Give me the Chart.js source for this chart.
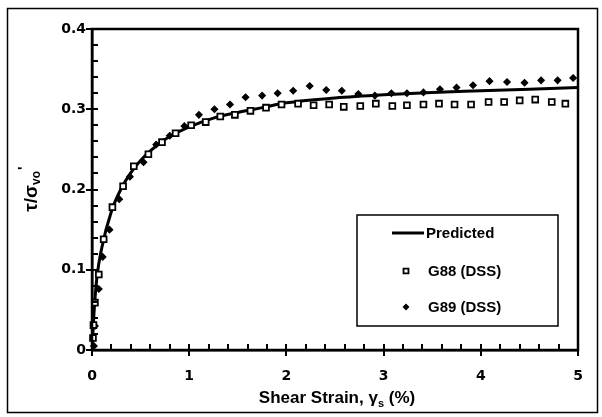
<!DOCTYPE html>
<html>
<head>
<meta charset="utf-8">
<script src="https://cdn.jsdelivr.net/npm/chart.js@4.4.1/dist/chart.umd.min.js"></script>
<style>
  html, body { margin: 0; padding: 0; background: #fff; }
  #wrap { width: 602px; height: 417px; }
</style>
</head>
<body>
<div id="wrap"><canvas id="chart" width="602" height="417"></canvas></div>
<script>
// --- data ---
const predStrain = [0, 0.02, 0.05, 0.1, 0.2, 0.3, 0.4, 0.5, 0.6, 0.7, 0.8, 1.0, 1.25, 1.5, 1.75, 2.0, 2.5, 3.0, 3.5, 4.0, 4.5, 5.0];
const predRatio  = [0, 0.045, 0.09, 0.127, 0.173, 0.201, 0.221, 0.236, 0.248, 0.258, 0.266, 0.278, 0.289, 0.296, 0.302, 0.308, 0.314, 0.318, 0.321, 0.323, 0.325, 0.327];

const g88Strain = [0.01, 0.015, 0.03, 0.07, 0.12, 0.21, 0.32, 0.43, 0.58, 0.72, 0.86, 1.02, 1.17, 1.32, 1.47, 1.63, 1.79, 1.95, 2.12, 2.28, 2.44, 2.59, 2.76, 2.92, 3.09, 3.24, 3.41, 3.57, 3.73, 3.90, 4.08, 4.24, 4.40, 4.56, 4.73, 4.87];
const g88Ratio  = [0.015, 0.031, 0.059, 0.094, 0.138, 0.178, 0.204, 0.229, 0.244, 0.259, 0.270, 0.280, 0.284, 0.291, 0.293, 0.298, 0.302, 0.306, 0.307, 0.305, 0.306, 0.303, 0.304, 0.307, 0.304, 0.305, 0.306, 0.307, 0.306, 0.306, 0.309, 0.309, 0.311, 0.312, 0.309, 0.307];

const g89Strain = [0.02, 0.03, 0.07, 0.11, 0.18, 0.28, 0.39, 0.53, 0.66, 0.80, 0.95, 1.10, 1.26, 1.42, 1.58, 1.75, 1.91, 2.07, 2.24, 2.41, 2.57, 2.74, 2.91, 3.08, 3.24, 3.41, 3.58, 3.75, 3.92, 4.09, 4.27, 4.45, 4.62, 4.79, 4.95];
const g89Ratio  = [0.005, 0.03, 0.076, 0.116, 0.150, 0.188, 0.216, 0.234, 0.256, 0.267, 0.279, 0.293, 0.300, 0.306, 0.315, 0.317, 0.320, 0.323, 0.329, 0.324, 0.323, 0.319, 0.317, 0.320, 0.320, 0.321, 0.325, 0.327, 0.330, 0.335, 0.334, 0.333, 0.336, 0.336, 0.339];

const seriesLabels = ['Predicted', 'G88 (DSS)', 'G89 (DSS)'];

const FONT = '"Liberation Sans", Arial, sans-serif';
const TICK_FONT = '"DejaVu Sans", "Liberation Sans", sans-serif';

function toPoints(xs, ys) {
    return xs.map((x, i) => ({ x: x, y: ys[i] }));
}

// inward minor/major ticks + closed frame
const frameTicks = {
    id: 'frameTicks',
    afterDatasetsDraw(chart) {
        const { ctx, chartArea: a, scales: { x, y } } = chart;
        ctx.save();
        ctx.strokeStyle = '#000';
        ctx.lineWidth = 2;
        ctx.beginPath();
        for (let i = 0; i <= 20; i++) {
            const py = Math.round(y.getPixelForValue(i * 0.02));
            const major = i % 5 === 0;
            ctx.moveTo(a.left - (major ? 6 : 0), py);
            ctx.lineTo(a.left + 6, py);
        }
        for (let i = 0; i <= 25; i++) {
            const px = Math.round(x.getPixelForValue(i * 0.2));
            const major = i % 5 === 0;
            ctx.moveTo(px, a.bottom + (major ? 6 : 0));
            ctx.lineTo(px, a.bottom - 6);
        }
        ctx.stroke();
        ctx.lineWidth = 2.5;
        ctx.strokeRect(a.left, a.top, a.right - a.left, a.bottom - a.top);
        // outer border of the figure
        ctx.lineWidth = 1.5;
        ctx.strokeRect(7.5, 8.5, 590, 404);
        ctx.restore();
    }
};

// axis titles with sub/superscripts
const axisTitles = {
    id: 'axisTitles',
    afterDraw(chart) {
        const { ctx, chartArea: a } = chart;
        ctx.save();
        ctx.fillStyle = '#000';
        ctx.textBaseline = 'alphabetic';

        // x title: Shear Strain, γs (%)
        const big = 'bold 17px ' + FONT, small = 'bold 11px ' + FONT;
        const parts = [['Shear Strain, γ', big, 0], ['s', small, 4], [' (%)', big, 0]];
        let w = 0;
        parts.forEach(p => { ctx.font = p[1]; w += ctx.measureText(p[0]).width; });
        let cx = (a.left + a.right) / 2 - w / 2 + 2;
        const by = 403;
        parts.forEach(p => {
            ctx.font = p[1];
            ctx.fillText(p[0], cx, by + p[2]);
            cx += ctx.measureText(p[0]).width;
        });

        // y title: τ/σvo'
        ctx.translate(37, (a.top + a.bottom) / 2);
        ctx.rotate(-Math.PI / 2);
        const yparts = [['τ/σ', 'bold 19px ' + FONT, 0], ['vo', 'bold 12px ' + FONT, 3], ["'", 'bold 15px ' + FONT, -9]];
        w = 0;
        yparts.forEach(p => { ctx.font = p[1]; w += ctx.measureText(p[0]).width; });
        cx = -w / 2;
        yparts.forEach(p => {
            ctx.font = p[1];
            ctx.fillText(p[0], cx, p[2]);
            cx += ctx.measureText(p[0]).width + (p[0] === 'vo' ? 1 : 0);
        });
        ctx.restore();
    }
};

// boxed legend inside the plot
const boxLegend = {
    id: 'boxLegend',
    afterDraw(chart) {
        const { ctx } = chart;
        const box = { l: 357, t: 215, r: 558, b: 326 };
        const rows = [233, 271, 307];
        ctx.save();
        ctx.fillStyle = '#fff';
        ctx.fillRect(box.l, box.t, box.r - box.l, box.b - box.t);
        ctx.strokeStyle = '#000';
        ctx.lineWidth = 1.5;
        ctx.strokeRect(box.l, box.t, box.r - box.l, box.b - box.t);
        ctx.font = 'bold 15px ' + FONT;
        ctx.textBaseline = 'middle';
        ctx.fillStyle = '#000';
        chart.data.datasets.forEach((ds, i) => {
            const yy = rows[i];
            if (i === 0) {
                ctx.lineWidth = 3;
                ctx.beginPath();
                ctx.moveTo(392, yy);
                ctx.lineTo(424, yy);
                ctx.stroke();
                ctx.fillText(ds.label, 426, yy + 1);
            } else {
                ctx.lineWidth = ds.pointBorderWidth;
                ctx.fillStyle = ds.pointBackgroundColor;
                ctx.strokeStyle = '#000';
                Chart.helpers.drawPoint(ctx, {
                    pointStyle: ds.pointStyle,
                    radius: ds.pointRadius - 0.6,
                    borderWidth: ds.pointBorderWidth
                }, 406, yy);
                ctx.fillStyle = '#000';
                ctx.fillText(ds.label, 428, yy + 1);
            }
        });
        ctx.restore();
    }
};

new Chart(document.getElementById('chart'), {
    type: 'scatter',
    data: {
        datasets: [{
            label: seriesLabels[0],
            data: toPoints(predStrain, predRatio),
            showLine: true,
            borderColor: '#000',
            borderWidth: 3,
            pointRadius: 0,
            cubicInterpolationMode: 'monotone',
            order: 3
        }, {
            label: seriesLabels[1],
            data: toPoints(g88Strain, g88Ratio),
            pointStyle: 'rect',
            pointRadius: 4.1,
            pointBorderWidth: 1.8,
            pointBackgroundColor: '#fff',
            pointBorderColor: '#000',
            clip: false,
            order: 1
        }, {
            label: seriesLabels[2],
            data: toPoints(g89Strain, g89Ratio),
            pointStyle: 'rectRot',
            pointRadius: 3.2,
            pointBorderWidth: 1.2,
            pointBackgroundColor: '#000',
            pointBorderColor: '#000',
            clip: false,
            order: 2
        }]
    },
    options: {
        responsive: false,
        animation: false,
        layout: { padding: { left: 0, top: 29, right: 24, bottom: 0 } },
        plugins: { legend: { display: false }, tooltip: { enabled: false } },
        scales: {
            x: {
                type: 'linear',
                min: 0, max: 5,
                afterFit(scale) { scale.height = 67; },
                grid: { display: true, drawOnChartArea: false, drawTicks: false },
                border: { display: true, color: '#000', width: 2.5 },
                ticks: {
                    stepSize: 1,
                    padding: 18,
                    color: '#000',
                    font: { family: TICK_FONT, size: 14, weight: 'bold' },
                    callback: v => String(v)
                }
            },
            y: {
                type: 'linear',
                min: 0, max: 0.4,
                afterFit(scale) { scale.width = 92; },
                grid: { display: true, drawOnChartArea: false, drawTicks: false },
                border: { display: true, color: '#000', width: 2.5 },
                ticks: {
                    stepSize: 0.1,
                    padding: 6,
                    color: '#000',
                    font: { family: TICK_FONT, size: 14, weight: 'bold' },
                    callback: v => (Math.abs(v) < 1e-9 ? '0' : v.toFixed(1))
                }
            }
        }
    },
    plugins: [frameTicks, axisTitles, boxLegend]
});
</script>
</body>
</html>
